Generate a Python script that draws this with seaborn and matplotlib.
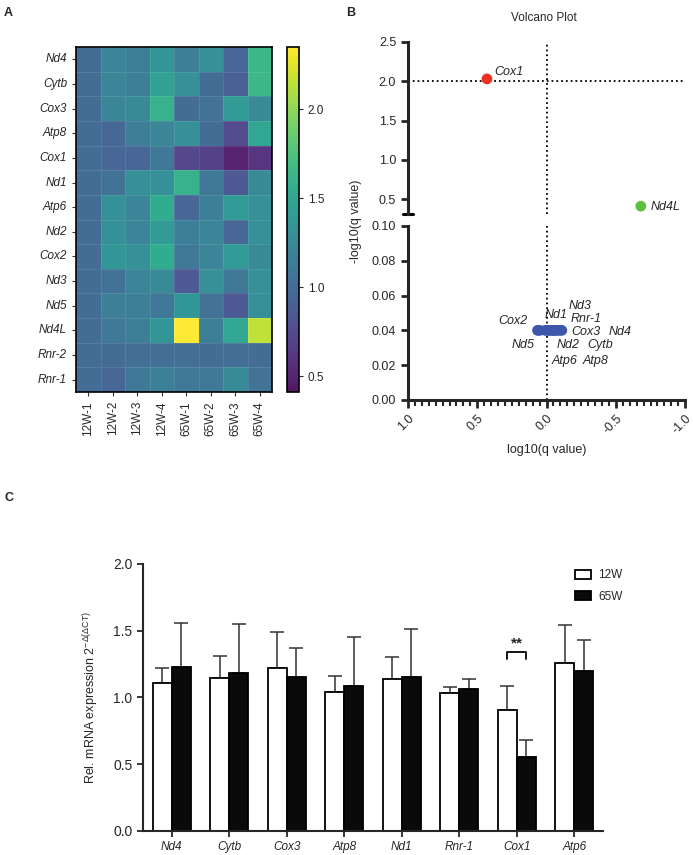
import numpy as np
import pandas as pd
import seaborn as sns
import matplotlib.pyplot as plt
from matplotlib.colors import ListedColormap
from matplotlib.patches import Patch
from matplotlib.ticker import MultipleLocator, FormatStrFormatter

# ---- data ----
genes = ['Nd4', 'Cytb', 'Cox3', 'Atp8', 'Cox1', 'Nd1', 'Atp6', 'Nd2',
         'Cox2', 'Nd3', 'Nd5', 'Nd4L', 'Rnr-2', 'Rnr-1']
samples = ['12W-1', '12W-2', '12W-3', '12W-4', '65W-1', '65W-2', '65W-3', '65W-4']
heat_values = [
    [1.00, 1.20, 1.15, 1.35, 1.15, 1.30, 0.95, 1.65],
    [1.00, 1.20, 1.15, 1.45, 1.30, 1.00, 0.90, 1.65],
    [1.00, 1.20, 1.25, 1.60, 1.00, 1.05, 1.40, 1.25],
    [1.00, 0.95, 1.15, 1.20, 1.30, 1.00, 0.75, 1.50],
    [1.00, 0.95, 0.95, 1.10, 0.72, 0.68, 0.50, 0.60],
    [1.00, 1.05, 1.30, 1.30, 1.60, 1.10, 0.85, 1.25],
    [1.00, 1.30, 1.20, 1.55, 0.95, 1.15, 1.40, 1.30],
    [1.00, 1.30, 1.20, 1.40, 1.15, 1.20, 0.95, 1.30],
    [1.00, 1.35, 1.30, 1.55, 1.10, 1.20, 1.40, 1.25],
    [1.00, 1.05, 1.20, 1.25, 0.85, 1.30, 1.10, 1.30],
    [1.00, 1.15, 1.15, 1.10, 1.35, 1.05, 0.85, 1.30],
    [1.00, 1.10, 1.15, 1.35, 2.35, 1.15, 1.50, 2.15],
    [1.00, 1.00, 1.02, 1.02, 1.02, 1.00, 1.02, 1.00],
    [1.00, 0.95, 1.10, 1.15, 1.10, 1.10, 1.25, 1.05],
]

volcano_genes = ['Cox1', 'Nd4L', 'Cox2', 'Nd5', 'Nd1', 'Atp6', 'Nd2', 'Nd3',
                 'Rnr-1', 'Atp8', 'Cytb', 'Cox3', 'Nd4']
volcano_x = [0.43, -0.68, 0.065, 0.05, 0.01, -0.01, -0.02, -0.04,
             -0.05, -0.06, -0.07, -0.09, -0.11]
volcano_y = [2.03, 0.41, 0.04, 0.04, 0.04, 0.04, 0.04, 0.04,
             0.04, 0.04, 0.04, 0.04, 0.04]
volcano_group = ['down', 'up'] + ['ns'] * 11

bar_genes = ['Nd4', 'Cytb', 'Cox3', 'Atp8', 'Nd1', 'Rnr-1', 'Cox1', 'Atp6']
mean_12w = [1.11, 1.145, 1.22, 1.04, 1.135, 1.03, 0.905, 1.26]
sd_12w = [0.11, 0.165, 0.27, 0.12, 0.165, 0.05, 0.18, 0.28]
mean_65w = [1.23, 1.18, 1.155, 1.085, 1.155, 1.065, 0.555, 1.20]
sd_65w = [0.33, 0.37, 0.215, 0.365, 0.355, 0.07, 0.125, 0.23]

# text positions for the volcano labels (data coords)
label_pos = {'Cox1': (0.27, 2.12), 'Nd4L': (-0.86, 0.40),
             'Cox2': (0.245, 0.0454), 'Nd1': (-0.07, 0.0489), 'Nd3': (-0.244, 0.054),
             'Rnr-1': (-0.287, 0.0466), 'Cox3': (-0.287, 0.0391), 'Nd4': (-0.53, 0.0391),
             'Nd5': (0.172, 0.0316), 'Nd2': (-0.158, 0.0316), 'Cytb': (-0.387, 0.0316),
             'Atp6': (-0.129, 0.0224), 'Atp8': (-0.35, 0.0224)}

sns.set_theme(style='ticks')
plt.rcParams['font.family'] = ['Liberation Sans', 'DejaVu Sans']
plt.rcParams['mathtext.default'] = 'regular'
plt.rcParams['axes.unicode_minus'] = False

fig = plt.figure(figsize=(6.93, 8.55), dpi=100)

# ---- A: heatmap ----
# viridis, washed slightly towards white like the original export
vir = plt.get_cmap('viridis')(np.linspace(0, 1, 256))
vir[:, :3] = vir[:, :3] * 0.92 + 0.08
soft_viridis = ListedColormap(vir)

ax_h = fig.add_axes([0.1097, 0.5415, 0.2828, 0.4035])
ax_cb = fig.add_axes([0.414, 0.5415, 0.0173, 0.4035])
heat_df = pd.DataFrame(heat_values, index=genes, columns=samples)
sns.heatmap(heat_df, ax=ax_h, cbar_ax=ax_cb, cmap=soft_viridis, vmin=0.41, vmax=2.35,
            linewidths=0.4, linecolor=(1, 1, 1, 0.1))
ax_h.set_yticklabels(genes, rotation=0, style='italic', fontsize=8.5)
ax_h.set_xticklabels(samples, rotation=90, fontsize=8.5)
ax_h.tick_params(length=3, width=0.8, color='#333333')
for s in ax_h.spines.values():
    s.set_visible(True)
    s.set_linewidth(1.2)
    s.set_color('black')
cb = ax_h.collections[0].colorbar
cb.set_ticks([0.5, 1.0, 1.5, 2.0])
cb.ax.tick_params(labelsize=8.5, length=3, width=0.8)
cb.outline.set_edgecolor('black')
cb.outline.set_linewidth(1.2)

# ---- B: volcano (broken y axis) ----
vdf = pd.DataFrame({'gene': volcano_genes, 'x': volcano_x, 'y': volcano_y,
                    'group': volcano_group})
pal = {'down': '#ee3124', 'up': '#5cbf3f', 'ns': '#3d57ad'}
ax_t = fig.add_axes([0.5887, 0.7497, 0.4, 0.2012])
ax_b = fig.add_axes([0.5887, 0.5322, 0.4, 0.2035])
for ax in (ax_t, ax_b):
    sns.scatterplot(data=vdf, x='x', y='y', hue='group', palette=pal, s=60,
                    edgecolor='none', legend=False, ax=ax, zorder=3)
    ax.set_xlim(1.0, -1.0)
    ax.axvline(0, ls=':', color='black', lw=1.3, zorder=1)
    ax.set_xlabel('')
    ax.set_ylabel('')
    for side in ('top', 'right'):
        ax.spines[side].set_visible(False)
    ax.spines['left'].set_linewidth(2.2)
    ax.spines['bottom'].set_linewidth(2.2)
    ax.tick_params(axis='y', length=5, width=2, labelsize=9)

ax_t.set_ylim(0.31, 2.5)
ax_t.set_yticks([0.5, 1.0, 1.5, 2.0, 2.5])
ax_t.yaxis.set_major_formatter(FormatStrFormatter('%.1f'))
ax_t.spines['bottom'].set_visible(False)
ax_t.tick_params(axis='x', bottom=False, labelbottom=False)
ax_t.axhline(2.0, ls=':', color='black', lw=1.3, zorder=1)
ax_t.plot([-0.018, 0.018], [0, 0], transform=ax_t.transAxes, color='black',
          lw=2.2, clip_on=False)

ax_b.set_ylim(0, 0.1)
ax_b.set_yticks(np.arange(0, 0.101, 0.02))
ax_b.yaxis.set_major_formatter(FormatStrFormatter('%.2f'))
ax_b.set_xticks([1.0, 0.5, 0.0, -0.5, -1.0])
ax_b.xaxis.set_minor_locator(MultipleLocator(0.05))
ax_b.tick_params(axis='x', which='major', length=6, width=2, labelsize=9, pad=3)
ax_b.tick_params(axis='x', which='minor', length=4, width=1.5)
for lab in ax_b.get_xticklabels():
    lab.set_rotation(45)
    lab.set_ha('right')
    lab.set_va('top')
    lab.set_rotation_mode('anchor')
ax_b.set_xlabel('log10(q value)', fontsize=9, labelpad=6)

for g in volcano_genes:
    px, py = label_pos[g]
    ax = ax_t if py > 0.1 else ax_b
    ax.text(px, py, g, style='italic', fontsize=9, ha='center', va='center')

fig.text(0.785, 0.979, 'Volcano Plot', ha='center', va='center', fontsize=8.5)
fig.text(0.514, 0.741, '-log10(q value)', rotation=90, ha='center', va='center',
         fontsize=9)

# ---- C: bar chart ----
bdf = pd.DataFrame({'gene': bar_genes * 2,
                    'value': mean_12w + mean_65w,
                    'group': ['12W'] * len(bar_genes) + ['65W'] * len(bar_genes)})
ax_c = fig.add_axes([0.2063, 0.0281, 0.6638, 0.3123])
sns.barplot(data=bdf, x='gene', y='value', hue='group',
            palette={'12W': 'white', '65W': '#0a0a0a'}, edgecolor='black',
            linewidth=1.3, width=0.66, errorbar=None, legend=False, ax=ax_c,
            zorder=2)
for cont, sd in zip(ax_c.containers, [sd_12w, sd_65w]):
    xs = [p.get_x() + p.get_width() / 2 for p in cont]
    ys = [p.get_height() for p in cont]
    ax_c.errorbar(xs, ys, yerr=[np.zeros(len(sd)), sd], fmt='none',
                  ecolor='#333333', elinewidth=1.1, capsize=5, capthick=1.1,
                  zorder=1)

# significance bracket for Cox1
i = bar_genes.index('Cox1')
p0, p1 = ax_c.containers[0][i], ax_c.containers[1][i]
x0 = p0.get_x() + p0.get_width() / 2
x1 = p1.get_x() + p1.get_width() / 2
ax_c.plot([x0, x0, x1, x1], [1.29, 1.34, 1.34, 1.29], color='black', lw=1.3)
ax_c.text((x0 + x1) / 2, 1.35, '**', ha='center', va='bottom', fontsize=11,
          weight='bold')

ax_c.set_xlim(-0.5, 7.5)
ax_c.set_ylim(0, 2.0)
ax_c.set_yticks([0, 0.5, 1.0, 1.5, 2.0])
ax_c.yaxis.set_major_formatter(FormatStrFormatter('%.1f'))
ax_c.set_xlabel('')
ax_c.set_ylabel(r'Rel. mRNA expression 2$^{-\Delta(\Delta CT)}$', fontsize=9,
                labelpad=9)
ax_c.set_xticks(range(len(bar_genes)))
ax_c.set_xticklabels(bar_genes, style='italic')
ax_c.tick_params(length=4, width=1.3, labelsize=8.5)
ax_c.tick_params(axis='y', labelsize=10)
sns.despine(ax=ax_c)
ax_c.spines['left'].set_linewidth(1.5)
ax_c.spines['bottom'].set_linewidth(1.5)

handles = [Patch(facecolor='white', edgecolor='black', lw=1.3, label='12W'),
           Patch(facecolor='#0a0a0a', edgecolor='black', lw=1.3, label='65W')]
ax_c.legend(handles=handles, loc='upper left', bbox_to_anchor=(0.915, 1.02),
            frameon=False, fontsize=8.5, handlelength=1.4, handleheight=0.8,
            labelspacing=0.8, handletextpad=0.6)

# panel letters
fig.text(0.006, 0.992, 'A', weight='bold', fontsize=9, va='top')
fig.text(0.500, 0.992, 'B', weight='bold', fontsize=9, va='top')
fig.text(0.006, 0.425, 'C', weight='bold', fontsize=9, va='top')

fig.savefig('out.png', dpi=100)
